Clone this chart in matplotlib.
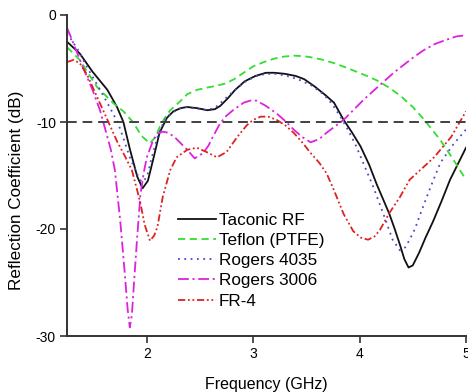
import matplotlib
matplotlib.use("Agg")
import matplotlib.pyplot as plt

plt.rcParams['font.family'] = ['Liberation Sans', 'DejaVu Sans']

# Taconic RF
tac_x = [1.25, 1.37, 1.49, 1.63, 1.72, 1.78, 1.84, 1.91, 1.96, 2.01, 2.06, 2.12, 2.19, 2.25, 2.32, 2.38,
         2.47, 2.57, 2.64, 2.69, 2.76, 2.83, 2.92, 3.02, 3.12, 3.20, 3.30, 3.40, 3.48, 3.58, 3.68, 3.76,
         3.85, 3.93, 4.01, 4.09, 4.16, 4.22, 4.28, 4.33, 4.38, 4.42, 4.46, 4.50, 4.56, 4.62, 4.69, 4.77,
         4.85, 4.93, 5.00]
tac_y = [-2.5, -3.6, -5.3, -7.0, -8.6, -10.0, -12.5, -15.1, -16.2, -15.5, -13.5, -11.0, -9.6, -9.0, -8.7, -8.6,
         -8.7, -8.9, -8.8, -8.5, -7.8, -7.0, -6.2, -5.7, -5.4, -5.4, -5.5, -5.7, -6.0, -6.7, -7.5, -8.2,
         -9.8, -11.0, -12.3, -14.0, -15.8, -17.2, -18.6, -20.0, -21.5, -22.8, -23.6, -23.4, -22.2, -20.8, -19.3, -17.4,
         -15.4, -13.8, -12.4]

# Teflon (PTFE)
tef_x = [1.25, 1.37, 1.53, 1.68, 1.78, 1.87, 1.95, 2.03, 2.08, 2.12, 2.17, 2.22, 2.31, 2.38, 2.47, 2.56,
         2.66, 2.74, 2.82, 2.91, 3.00, 3.10, 3.19, 3.28, 3.38, 3.48, 3.57, 3.66, 3.76, 3.87, 3.97, 4.07,
         4.16, 4.28, 4.39, 4.50, 4.60, 4.68, 4.76, 4.88, 5.00]
tef_y = [-3.0, -4.2, -6.7, -8.2, -9.0, -10.0, -11.3, -12.0, -11.4, -10.5, -9.6, -8.9, -8.1, -7.4, -7.0, -6.8,
         -6.6, -6.4, -6.0, -5.4, -4.8, -4.4, -4.1, -3.9, -3.8, -3.85, -4.0, -4.2, -4.5, -4.9, -5.3, -5.7,
         -6.1, -6.8, -7.6, -8.6, -9.7, -10.7, -11.7, -13.5, -15.4]

# Rogers 4035
r4_x = [1.25, 1.35, 1.44, 1.55, 1.65, 1.73, 1.79, 1.84, 1.92, 1.95, 1.98, 2.01, 2.05, 2.10, 2.15, 2.19,
        2.29, 2.36, 2.43, 2.50, 2.57, 2.65, 2.75, 2.83, 2.93, 3.03, 3.12, 3.22, 3.32, 3.42, 3.55, 3.66,
        3.74, 3.82, 3.90, 3.97, 4.05, 4.13, 4.22, 4.31, 4.38, 4.43, 4.47, 4.52, 4.56, 4.62, 4.69, 4.76,
        4.88, 5.00]
r4_y = [-1.7, -3.2, -4.9, -6.8, -8.6, -10.1, -11.8, -13.3, -15.1, -15.6, -15.4, -14.8, -13.2, -11.4, -10.2, -9.5,
        -8.8, -8.6, -8.7, -8.8, -8.9, -8.6, -7.7, -7.0, -6.2, -5.7, -5.5, -5.5, -5.7, -6.0, -6.6, -7.4,
        -8.3, -9.5, -10.9, -12.3, -14.2, -16.1, -18.5, -21.0, -22.0, -21.7, -21.0, -20.0, -18.9, -17.3, -15.5, -13.8,
        -12.1, -10.7]

# Rogers 3006
r3_x = [1.25, 1.28, 1.34, 1.40, 1.49, 1.56, 1.61, 1.66, 1.70, 1.75, 1.79, 1.82, 1.84, 1.86, 1.88, 1.91,
        1.94, 1.97, 2.00, 2.06, 2.10, 2.15, 2.20, 2.26, 2.32, 2.38, 2.45, 2.53, 2.58, 2.62, 2.69, 2.75,
        2.81, 2.91, 2.97, 3.03, 3.12, 3.22, 3.30, 3.38, 3.46, 3.54, 3.62, 3.69, 3.77, 3.85, 3.95, 4.04,
        4.14, 4.23, 4.32, 4.41, 4.50, 4.60, 4.71, 4.82, 4.91, 5.00]
r3_y = [-1.2, -1.9, -3.4, -4.9, -7.0, -8.9, -10.7, -12.5, -14.5, -19.2, -23.8, -27.5, -29.2, -28.0, -25.0, -20.7,
        -16.8, -14.8, -13.3, -11.7, -11.1, -10.9, -11.0, -11.4, -12.0, -12.6, -13.4, -12.9, -12.2, -11.4, -10.1, -9.4,
        -8.9, -8.2, -8.0, -8.0, -8.5, -9.2, -9.9, -10.7, -11.4, -11.9, -11.6, -11.0, -10.4, -9.8, -8.8, -7.9,
        -7.0, -6.2, -5.4, -4.7, -4.0, -3.3, -2.7, -2.3, -2.0, -1.9]

# FR-4
fr_x = [1.25, 1.31, 1.37, 1.44, 1.53, 1.63, 1.72, 1.80, 1.86, 1.91, 1.94, 1.98, 2.03, 2.07, 2.10, 2.15,
        2.22, 2.28, 2.38, 2.47, 2.56, 2.66, 2.75, 2.85, 2.94, 3.00, 3.07, 3.14, 3.22, 3.30, 3.38, 3.46,
        3.54, 3.62, 3.69, 3.76, 3.85, 3.94, 4.01, 4.08, 4.14, 4.19, 4.28, 4.38, 4.47, 4.58, 4.70, 4.86,
        5.00]
fr_y = [-4.4, -4.2, -4.5, -5.6, -7.6, -9.8, -11.8, -13.3, -14.5, -16.4, -17.6, -19.6, -21.1, -20.6, -19.8, -17.0,
        -14.5, -13.3, -12.6, -12.4, -12.8, -13.3, -12.8, -11.4, -10.3, -9.8, -9.5, -9.5, -9.8, -10.3, -11.0, -11.9,
        -12.9, -13.8, -14.8, -16.4, -18.6, -20.2, -20.8, -21.0, -20.7, -20.1, -18.5, -17.0, -15.4, -14.4, -13.3, -11.4,
        -9.0]

labels = ["Taconic RF", "Teflon (PTFE)", "Rogers 4035", "Rogers 3006", "FR-4"]
threshold = -10
x_ticks = [2, 3, 4, 5]
y_ticks = [0, -10, -20, -30]

fig = plt.figure(figsize=(4.68, 3.92), dpi=100)
ax = fig.add_axes([67/468, 1-336/392, 399/468, 321/392])

lw = 1.3
ax.plot(tac_x, tac_y, color='#111111', lw=lw, ls='-', label=labels[0])
ax.plot(tef_x, tef_y, color='#33dd33', lw=lw, ls=(0, (4, 2.5)), label=labels[1])
ax.plot(r4_x, r4_y, color='#4848cc', lw=lw, ls=(0, (1, 2.5)), label=labels[2])
ax.plot(r3_x, r3_y, color='#dd22dd', lw=lw, ls=(0, (6, 2, 1.2, 2)), label=labels[3])
ax.plot(fr_x, fr_y, color='#dd2222', lw=lw, ls=(0, (4, 1.5, 1, 1.5, 1, 1.5)), label=labels[4])
ax.axhline(threshold, color='#404040', lw=1.4, ls=(0, (5, 3)))

ax.set_xlim(1.25, 5.0)
ax.set_ylim(-30, 0)
ax.set_xticks(x_ticks)
ax.set_yticks(y_ticks)
ax.set_xticklabels([str(t) for t in x_ticks])
ax.set_yticklabels([str(t) for t in y_ticks])
for s in ['top', 'right']:
    ax.spines[s].set_visible(False)
for s in ['left', 'bottom']:
    ax.spines[s].set_color('#333333')
    ax.spines[s].set_linewidth(1.4)
ax.tick_params(direction='out', length=5, width=1.2, color='#333333', labelsize=10, pad=3)

ax.set_xlabel("Frequency (GHz)", fontsize=11.5)
ax.set_ylabel("Reflection Coefficient (dB)", fontsize=12.3)
ax.xaxis.set_label_coords(0.5, -0.127)
ax.yaxis.set_label_coords(-0.108, 0.455)

leg = ax.legend(loc='upper left', bbox_to_anchor=(178/468, 1-213/392), bbox_transform=fig.transFigure,
                frameon=False, fontsize=12.3, handlelength=2.2, handletextpad=0.2,
                labelspacing=0.3, borderpad=0, borderaxespad=0)

fig.savefig("out.png", dpi=100)
